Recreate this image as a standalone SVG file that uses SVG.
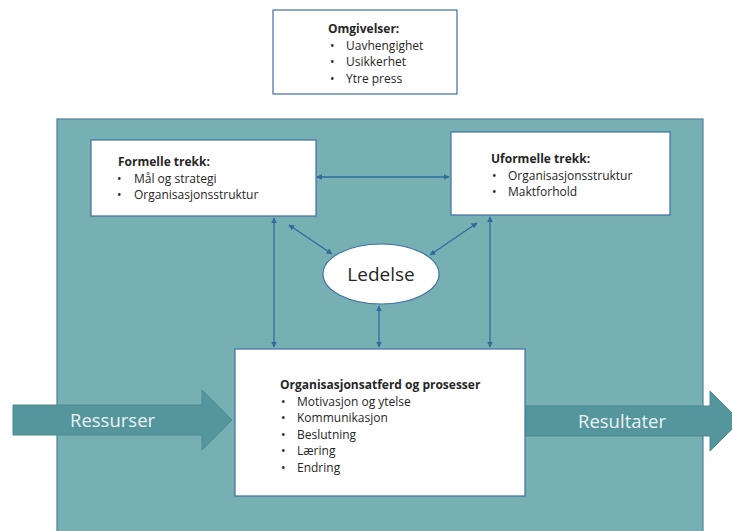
<svg xmlns="http://www.w3.org/2000/svg" width="732" height="531" viewBox="0 0 732 531">
<defs>
<marker id="ah" viewBox="0 0 10 10" refX="9" refY="5" markerWidth="6" markerHeight="6" orient="auto-start-reverse" markerUnits="userSpaceOnUse">
<path d="M0,0 L10,5 L0,10 z" fill="#2f6c9e"/>
</marker>
<style>
.box{fill:#ffffff;stroke:#3f6fa6;stroke-width:1.2}
.t{font-family:"Open Sans","Liberation Sans",sans-serif;font-size:12px;fill:#262626}
.b{font-weight:bold}
.con{stroke:#2f6c9e;stroke-width:1.3;fill:none;marker-start:url(#ah);marker-end:url(#ah)}
.big{fill:#55959c;stroke:#4a8891;stroke-width:1}
.bt{font-family:"Open Sans","Liberation Sans",sans-serif;font-size:18.5px;fill:#e8f4f4}
</style>
</defs>
<rect width="732" height="531" fill="#ffffff"/>
<g id="omgivelser">
<rect class="box" x="273" y="10" width="184" height="84"/>
<text class="t b" x="328" y="33">Omgivelser:</text>
<text class="t" x="330" y="50">•</text><text class="t" x="346" y="50">Uavhengighet</text>
<text class="t" x="330" y="66">•</text><text class="t" x="346" y="66">Usikkerhet</text>
<text class="t" x="330" y="83">•</text><text class="t" x="346" y="83">Ytre press</text>
</g>
<g id="organisasjon">
<rect x="57" y="119" width="646" height="420" fill="#77b0b3" stroke="#4f7fa0" stroke-width="1.2"/>
</g>
<g id="ressurser">
<path class="big" d="M13,405 L202,405 L202,390 L232,420 L202,450 L202,435 L13,435 z"/>
<text class="bt" x="70" y="427">Ressurser</text>
</g>
<g id="resultater">
<path class="big" d="M523,406 L710,406 L710,391 L740,421 L710,451 L710,436 L523,436 z"/>
<text class="bt" x="578" y="428">Resultater</text>
</g>
<g id="formelle">
<rect class="box" x="91" y="140" width="225" height="76"/>
<text class="t b" x="118" y="166">Formelle trekk:</text>
<text class="t" x="117" y="183">•</text><text class="t" x="134" y="183">Mål og strategi</text>
<text class="t" x="117" y="199">•</text><text class="t" x="134" y="199">Organisasjonsstruktur</text>
</g>
<g id="uformelle">
<rect class="box" x="451" y="132" width="219" height="83"/>
<text class="t b" x="491" y="163">Uformelle trekk:</text>
<text class="t" x="492" y="180">•</text><text class="t" x="508" y="180">Organisasjonsstruktur</text>
<text class="t" x="492" y="196">•</text><text class="t" x="508" y="196">Maktforhold</text>
</g>
<g id="ledelse">
<ellipse cx="381" cy="274" rx="58" ry="30" fill="#ffffff" stroke="#3f6fa6" stroke-width="1.2"/>
<text x="381" y="281" text-anchor="middle" font-family="'Open Sans','Liberation Sans',sans-serif" font-size="19" fill="#262626">Ledelse</text>
</g>
<g id="prosesser">
<rect class="box" x="235" y="349" width="290" height="147"/>
<text class="t b" x="280" y="389">Organisasjonsatferd og prosesser</text>
<text class="t" x="281" y="406">•</text><text class="t" x="297" y="406">Motivasjon og ytelse</text>
<text class="t" x="281" y="422">•</text><text class="t" x="297" y="422">Kommunikasjon</text>
<text class="t" x="281" y="439">•</text><text class="t" x="297" y="439">Beslutning</text>
<text class="t" x="281" y="455">•</text><text class="t" x="297" y="455">Læring</text>
<text class="t" x="281" y="472">•</text><text class="t" x="297" y="472">Endring</text>
</g>
<g id="connectors">
<line class="con" x1="317" y1="177" x2="449" y2="177"/>
<line class="con" x1="274" y1="218" x2="274" y2="347"/>
<line class="con" x1="490" y1="217" x2="490" y2="347"/>
<line class="con" x1="379" y1="306" x2="379" y2="347"/>
<line class="con" x1="289" y1="225" x2="332" y2="254"/>
<line class="con" x1="477" y1="223" x2="430" y2="255"/>
</g>
</svg>
